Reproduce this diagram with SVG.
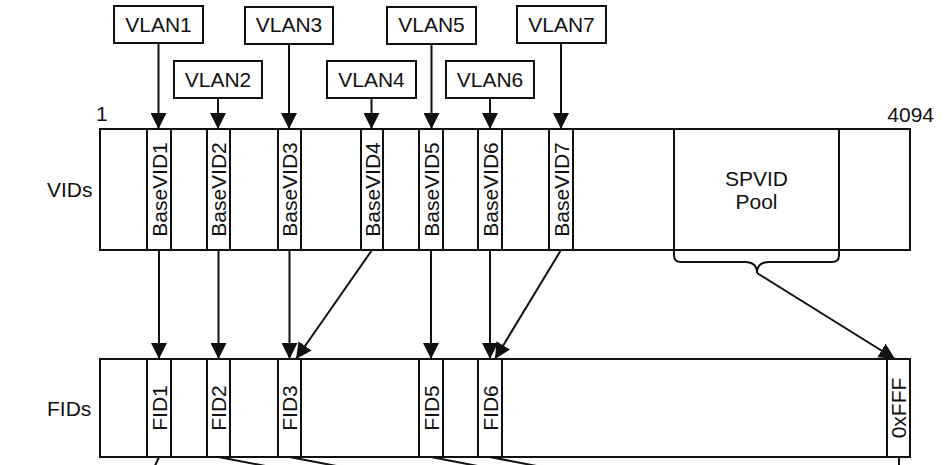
<svg xmlns="http://www.w3.org/2000/svg" width="949" height="465" viewBox="0 0 949 465">
<defs>
<style>
.b{fill:#fff;stroke:#111;stroke-width:2}
.c{fill:none;stroke:#111;stroke-width:2}
.t{font-family:"Liberation Sans",Arial,sans-serif;font-size:21px;fill:#111;text-anchor:middle}
.l{font-family:"Liberation Sans",Arial,sans-serif;font-size:21px;fill:#111}
</style>
<marker id="ah" viewBox="0 0 16 16" refX="16" refY="8" markerWidth="16" markerHeight="16" markerUnits="userSpaceOnUse" orient="auto"><path d="M0,0 L16,8 L0,16 z" fill="#111"/></marker>
</defs>
<rect width="949" height="465" fill="#fff"/>

<text class="l" x="47" y="197">VIDs</text>
<text class="l" x="47" y="416">FIDs</text>
<text class="l" x="96" y="121">1</text>
<text class="l" x="934" y="122" text-anchor="end">4094</text>

<g id="vids">
<rect class="b" x="100" y="129" width="810" height="121"/>
</g>
<g id="fids">
<rect class="b" x="100" y="359" width="810" height="98"/>
</g>

<g id="vlan1"><rect class="b" x="114" y="6" width="89" height="37"/><text class="t" x="158.5" y="31.5">VLAN1</text></g>
<g id="vlan2"><rect class="b" x="174" y="61" width="88" height="37"/><text class="t" x="218" y="87">VLAN2</text></g>
<g id="vlan3"><rect class="b" x="245" y="7" width="88" height="37"/><text class="t" x="289" y="32">VLAN3</text></g>
<g id="vlan4"><rect class="b" x="327" y="61" width="89" height="37"/><text class="t" x="371.5" y="87">VLAN4</text></g>
<g id="vlan5"><rect class="b" x="387" y="7" width="89" height="37"/><text class="t" x="431.5" y="32">VLAN5</text></g>
<g id="vlan6"><rect class="b" x="446" y="61" width="88" height="37"/><text class="t" x="490" y="87">VLAN6</text></g>
<g id="vlan7"><rect class="b" x="517" y="6" width="89" height="37"/><text class="t" x="561.5" y="31.5">VLAN7</text></g>

<g id="basevid1"><rect class="b" x="147" y="129" width="24" height="121"/><text class="t" transform="translate(159,189.5) rotate(-90)" dy="7.5">BaseVID1</text></g>
<g id="basevid2"><rect class="b" x="207" y="129" width="23" height="121"/><text class="t" transform="translate(218.5,189.5) rotate(-90)" dy="7.5">BaseVID2</text></g>
<g id="basevid3"><rect class="b" x="278" y="129" width="23" height="121"/><text class="t" transform="translate(289.5,189.5) rotate(-90)" dy="7.5">BaseVID3</text></g>
<g id="basevid4"><rect class="b" x="361" y="129" width="22" height="121"/><text class="t" transform="translate(372,189.5) rotate(-90)" dy="7.5">BaseVID4</text></g>
<g id="basevid5"><rect class="b" x="419" y="129" width="24" height="121"/><text class="t" transform="translate(431,189.5) rotate(-90)" dy="7.5">BaseVID5</text></g>
<g id="basevid6"><rect class="b" x="478" y="129" width="24" height="121"/><text class="t" transform="translate(490,189.5) rotate(-90)" dy="7.5">BaseVID6</text></g>
<g id="basevid7"><rect class="b" x="549" y="129" width="24" height="121"/><text class="t" transform="translate(561,189.5) rotate(-90)" dy="7.5">BaseVID7</text></g>

<g id="spvid">
<path class="c" d="M674,129 V255 Q674,262 681,262 H745 Q757,262 757,273 Q757,262 769,262 H832 Q839,262 839,255 V129"/>
<text class="t" x="756.5" y="186">SPVID</text>
<text class="t" x="756.5" y="209">Pool</text>
</g>

<g id="fid1"><rect class="b" x="147" y="359" width="24" height="98"/><text class="t" transform="translate(159,408) rotate(-90)" dy="7.5">FID1</text></g>
<g id="fid2"><rect class="b" x="207" y="359" width="23" height="98"/><text class="t" transform="translate(218.5,408) rotate(-90)" dy="7.5">FID2</text></g>
<g id="fid3"><rect class="b" x="278" y="359" width="23" height="98"/><text class="t" transform="translate(289.5,408) rotate(-90)" dy="7.5">FID3</text></g>
<g id="fid5"><rect class="b" x="419" y="359" width="24" height="98"/><text class="t" transform="translate(431,408) rotate(-90)" dy="7.5">FID5</text></g>
<g id="fid6"><rect class="b" x="478" y="359" width="24" height="98"/><text class="t" transform="translate(490,408) rotate(-90)" dy="7.5">FID6</text></g>
<g id="fffid"><rect class="b" x="887" y="359" width="23" height="98"/><text class="t" transform="translate(898.5,408) rotate(-90)" dy="7.5">0xFFF</text></g>

<g id="connectors" class="c">
<line class="c" x1="158.5" y1="43" x2="158.5" y2="129" marker-end="url(#ah)"/>
<line class="c" x1="218" y1="98" x2="218" y2="129" marker-end="url(#ah)"/>
<line class="c" x1="289" y1="44" x2="289" y2="129" marker-end="url(#ah)"/>
<line class="c" x1="371.5" y1="98" x2="371.5" y2="129" marker-end="url(#ah)"/>
<line class="c" x1="431.5" y1="44" x2="431.5" y2="129" marker-end="url(#ah)"/>
<line class="c" x1="490" y1="98" x2="490" y2="129" marker-end="url(#ah)"/>
<line class="c" x1="561" y1="43" x2="561" y2="129" marker-end="url(#ah)"/>

<line class="c" x1="159" y1="250" x2="159" y2="359" marker-end="url(#ah)"/>
<line class="c" x1="218.5" y1="250" x2="218.5" y2="359" marker-end="url(#ah)"/>
<line class="c" x1="289.5" y1="250" x2="289.5" y2="359" marker-end="url(#ah)"/>
<line class="c" x1="372" y1="250" x2="296" y2="359" marker-end="url(#ah)"/>
<line class="c" x1="431" y1="250" x2="431" y2="359" marker-end="url(#ah)"/>
<line class="c" x1="490" y1="250" x2="490" y2="359" marker-end="url(#ah)"/>
<line class="c" x1="561" y1="250" x2="495" y2="359" marker-end="url(#ah)"/>
<line class="c" x1="757" y1="273" x2="895" y2="359" marker-end="url(#ah)"/>

<line class="c" x1="159" y1="457" x2="154" y2="468"/>
<line class="c" x1="218.5" y1="457" x2="276" y2="468"/>
<line class="c" x1="289.5" y1="457" x2="347" y2="468"/>
<line class="c" x1="431" y1="457" x2="488" y2="468"/>
<line class="c" x1="490" y1="457" x2="547" y2="468"/>
<line class="c" x1="899" y1="457" x2="899" y2="468"/>
</g>
</svg>
